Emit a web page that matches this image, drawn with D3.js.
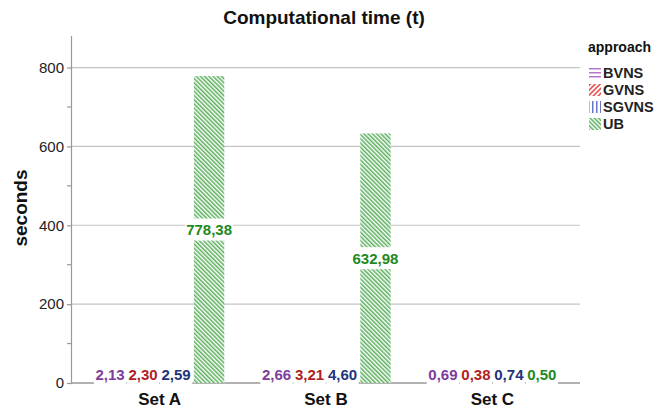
<!DOCTYPE html>
<html><head><meta charset="utf-8">
<script src="https://cdn.jsdelivr.net/npm/d3@7"></script>
<style>body{margin:0;background:#fff;}svg{display:block;font-family:"Liberation Sans",Arial,sans-serif;}</style>
</head><body>
<svg id="chart" width="655" height="410"></svg>
<script>
const categories = ["Set A", "Set B", "Set C"];
const approaches = ["BVNS", "GVNS", "SGVNS", "UB"];
const BVNS = [2.13, 2.66, 0.69];
const GVNS = [2.30, 3.21, 0.38];
const SGVNS = [2.59, 4.60, 0.74];
const UB = [778.38, 632.98, 0.50];
const yTicks = [0, 200, 400, 600, 800];
const yMinorTicks = [100, 300, 500, 700];
const title = "Computational time (t)";
const yTitle = "seconds";
const legendTitle = "approach";

const seriesValues = {BVNS, GVNS, SGVNS, UB};
const labelColors = {BVNS: "#7d3c9c", GVNS: "#b01e1e", SGVNS: "#1f337d", UB: "#1e8a22"};
const hatchColors = {BVNS: "#b578cc", GVNS: "#e05050", SGVNS: "#6a78c4", UB: "#5aae5c"};

const svg = d3.select("#chart");
const m = {left: 72, right: 580, top: 36, bottom: 383};

const x0 = d3.scaleBand().domain(categories).range([m.left, m.right]).paddingInner(0.207).paddingOuter(0.13);
const x1 = d3.scaleBand().domain(approaches).range([0, x0.bandwidth()]).paddingInner(0.08).paddingOuter(0.04);
const y = d3.scaleLinear().domain([0, 880]).range([m.bottom, m.top]);

const defs = svg.append("defs");
function pattern(id, color, angle, size, lw) {
  const p = defs.append("pattern").attr("id", id).attr("patternUnits", "userSpaceOnUse")
    .attr("width", size).attr("height", size).attr("patternTransform", `rotate(${angle})`);
  p.append("rect").attr("width", size).attr("height", size).attr("fill", "#fff");
  p.append("rect").attr("x", 0).attr("y", 0).attr("width", lw).attr("height", size).attr("fill", color);
}
pattern("p-UB", hatchColors.UB, -45, 3, 1.5);
pattern("p-BVNS", hatchColors.BVNS, 90, 4, 1.5);
pattern("p-GVNS", hatchColors.GVNS, 45, 3.5, 1.6);
pattern("p-SGVNS", hatchColors.SGVNS, 0, 4, 1.5);

// gridlines
svg.append("g").selectAll("line").data(yTicks.filter(d => d > 0)).join("line")
  .attr("x1", m.left).attr("x2", m.right).attr("y1", d => y(d)).attr("y2", d => y(d))
  .attr("stroke", "#c4c4c4").attr("stroke-width", 1.2);

// y axis
const yAxis = d3.axisLeft(y).tickValues(yTicks).tickSize(5).tickPadding(3).tickFormat(d3.format("d"));
const ga = svg.append("g").attr("transform", `translate(${m.left},0)`).call(yAxis);
ga.select(".domain").attr("stroke", "#999").attr("stroke-width", 1.2).attr("d", `M-0.5,${m.top}V${m.bottom}`);
ga.selectAll(".tick line").attr("stroke", "#999").attr("stroke-width", 1.2);
ga.selectAll(".tick text").attr("font-size", 15).attr("fill", "#222").attr("font-family", "Liberation Sans, Arial, sans-serif");
svg.append("g").selectAll("line").data(yMinorTicks).join("line")
  .attr("x1", m.left - 5).attr("x2", m.left).attr("y1", d => y(d)).attr("y2", d => y(d))
  .attr("stroke", "#999").attr("stroke-width", 1.2);

// baseline
svg.append("line").attr("x1", m.left).attr("x2", m.right).attr("y1", y(0)).attr("y2", y(0))
  .attr("stroke", "#999").attr("stroke-width", 1.5);

// bars
const data = [];
categories.forEach((c, i) => approaches.forEach(a => data.push({cat: c, app: a, v: seriesValues[a][i]})));
svg.append("g").selectAll("rect").data(data).join("rect")
  .attr("x", d => x0(d.cat) + x1(d.app)).attr("width", x1.bandwidth())
  .attr("y", d => y(d.v)).attr("height", d => y(0) - y(d.v))
  .attr("fill", d => `url(#p-${d.app})`);

// value labels
const fmt = d3.formatLocale({decimal: ",", thousands: ".", grouping: [3], currency: ["", ""]}).format(".2f");
const lg = svg.append("g");
data.forEach(d => {
  const cx = x0(d.cat) + x1(d.app) + x1.bandwidth() / 2;
  const cy = Math.min((y(d.v) + y(0)) / 2, y(0) - 8.5);
  const g = lg.append("g");
  const t = g.append("text").attr("x", cx).attr("y", cy).attr("dy", "0.36em").attr("text-anchor", "middle")
    .attr("font-size", 15).attr("font-weight", "bold").attr("fill", labelColors[d.app]).text(fmt(d.v));
  const w = t.node().getComputedTextLength();
  g.insert("rect", "text").attr("x", cx - Math.max(w + 2, x1.bandwidth() + 2) / 2).attr("y", cy - 11)
    .attr("width", Math.max(w + 2, x1.bandwidth() + 2)).attr("height", 22).attr("fill", "#fff");
});

// x category labels
svg.append("g").selectAll("text").data(categories).join("text")
  .attr("x", d => x0(d) + x0.bandwidth() / 2).attr("y", 405).attr("text-anchor", "middle")
  .attr("font-size", 17).attr("font-weight", "bold").attr("fill", "#111").text(d => d);

// title
svg.append("text").attr("x", 324).attr("y", 24).attr("text-anchor", "middle")
  .attr("font-size", 19).attr("font-weight", "bold").attr("fill", "#111").text(title);

// y title
svg.append("text").attr("transform", `translate(27,208) rotate(-90)`).attr("text-anchor", "middle")
  .attr("font-size", 19).attr("font-weight", "bold").attr("fill", "#111").text(yTitle);

// legend
const leg = svg.append("g");
leg.append("text").attr("x", 588).attr("y", 52).attr("font-size", 14).attr("font-weight", "bold").attr("fill", "#111").text(legendTitle);
approaches.forEach((a, i) => {
  const yy = 73 + i * 17;
  leg.append("rect").attr("x", 589).attr("y", yy - 6).attr("width", 12).attr("height", 12).attr("fill", `url(#p-${a})`);
  leg.append("text").attr("x", 603).attr("y", yy).attr("dy", "0.36em").attr("font-size", 14.5).attr("font-weight", "bold").attr("fill", "#222").text(a);
});
</script>
</body></html>
